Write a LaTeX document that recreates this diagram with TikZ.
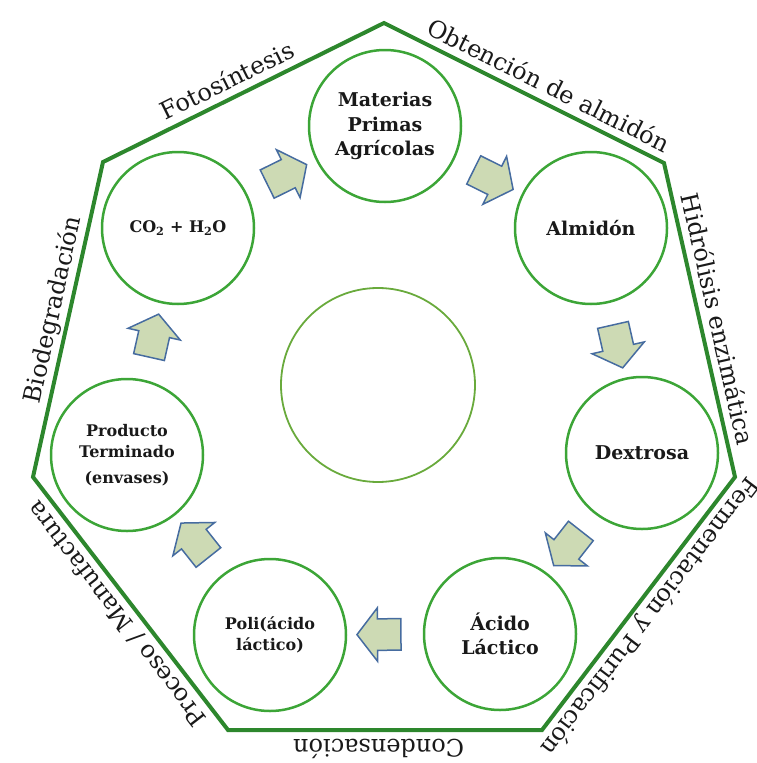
\documentclass[tikz,border=0pt]{standalone}
\usepackage{fontspec}
\setmainfont{DejaVu Serif}
\usetikzlibrary{shapes.arrows}
\definecolor{rimgreen}{RGB}{45,135,45}
\definecolor{ringgreen}{RGB}{60,165,55}
\definecolor{hubgreen}{RGB}{105,170,60}
\definecolor{arrowfill}{RGB}{205,218,180}
\definecolor{arrowline}{RGB}{70,108,160}
\definecolor{ink}{RGB}{25,25,25}
\begin{document}
\begin{tikzpicture}[x=1pt,y=-1pt,
  stage/.style={circle, draw=ringgreen, line width=2.5pt, minimum size=152pt,
    inner sep=0pt, align=center, text=ink,
    font=\bfseries\fontsize{19}{24.5}\selectfont},
  smallstage/.style={stage, font=\bfseries\fontsize{16}{21}\selectfont},
  hubring/.style={circle, draw=hubgreen, line width=1.8pt, minimum size=194pt},
  rim/.style={draw=rimgreen, line width=4pt},
  edgelabel/.style={sloped, allow upside down, above=9pt, inner sep=0pt,
    text depth=0pt, text=ink, font=\fontsize{24}{28}\selectfont},
  flowarrow/.style={sloped, allow upside down, single arrow, fill=arrowfill,
    draw=arrowline, line width=1.5pt, minimum height=44pt,
    text height=15pt, text depth=15pt, text width=0pt,
    single arrow head extend=11pt, single arrow tip angle=105, inner sep=0pt}
]
\useasboundingbox (0,0) rectangle (756,763);

% outer heptagon, traced clockwise from the left corner
\coordinate (vL)  at (33,477);
\coordinate (vTL) at (103,162);
\coordinate (vT)  at (384,23);
\coordinate (vTR) at (664,163);
\coordinate (vR)  at (735,477);
\coordinate (vBR) at (542,730);
\coordinate (vBL) at (228,730);
\draw[rim] (vL) -- (vTL) -- (vT) -- (vTR) -- (vR) -- (vBR) -- (vBL) -- cycle;

% process names written outside each side
\path (vL)  -- node[edgelabel, pos=0.52] {Biodegradación} (vTL);
\path (vTL) -- node[edgelabel, pos=0.47] {Fotosíntesis} (vT);
\path (vT)  -- node[edgelabel, pos=0.56] {Obtención de almidón} (vTR);
\path (vTR) -- node[edgelabel, pos=0.51] {Hidrólisis enzimática} (vR);
\path (vR)  -- node[edgelabel, pos=0.51] {Fermentación y Purificación} (vBR);
\path (vBR) -- node[edgelabel, pos=0.52] {Condensación} (vBL);
\path (vBL) -- node[edgelabel, pos=0.50] {Proceso / Manufactura} (vL);

% life-cycle stages
\node[stage] (mp) at (385,126) {Materias\\Primas\\Agrícolas};
\node[stage] (alm) at (591,228) {Almidón};
\node[stage] (dex) at (642,453) {Dextrosa};
\node[stage] (acl) at (500,634) {Ácido\\Láctico};
\node[smallstage] (poli) at (270,635) {Poli(ácido\\láctico)};
\node[smallstage] (prod) at (127,455) {Producto\\Terminado\\[5pt](envases)};
\node[smallstage] (co2) at (178,228) {CO\textsubscript{2} + H\textsubscript{2}O};
\node[hubring] (hub) at (378,385) {};

% block arrows between consecutive stages
\path (co2)  -- node[flowarrow] {} (mp);
\path (mp)   -- node[flowarrow] {} (alm);
\path (alm)  -- node[flowarrow] {} (dex);
\path (dex)  -- node[flowarrow] {} (acl);
\path (acl)  -- node[flowarrow] {} (poli);
\path (poli) -- node[flowarrow] {} (prod);
\path (prod) -- node[flowarrow] {} (co2);
\end{tikzpicture}
\end{document}
